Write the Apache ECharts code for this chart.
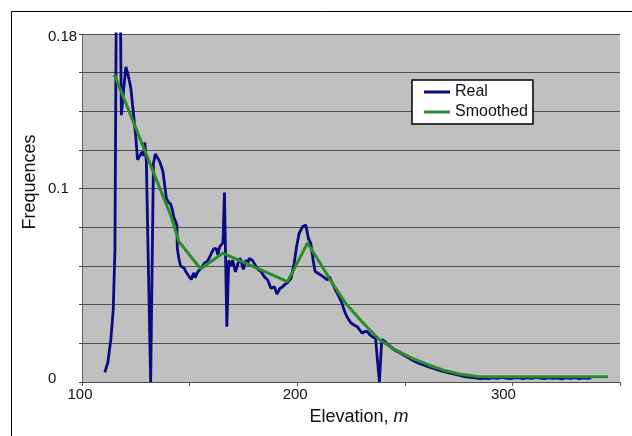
<!DOCTYPE html>
<html>
<head>
<meta charset="utf-8">
<script src="https://cdn.jsdelivr.net/npm/echarts@6/dist/echarts.min.js"></script>
<style>
  html, body { margin: 0; padding: 0; background: #fff; }
  #chart { width: 632px; height: 436px; }
</style>
</head>
<body>
<div id="chart"></div>
<script>
// Elevation frequency distribution: raw histogram and smoothed curve
const realElev = [
  110.6, 112.0, 113.4, 114.5, 115.3, 116.1, 117.6, 118.3, 119.4, 120.4,
  121.4, 122.7, 123.8, 124.9, 125.8, 126.9, 127.9, 128.6, 129.2, 129.9,
  131.9, 133.2, 134.1, 135.0, 136.1, 137.6, 138.4, 139.2, 140.2, 141.2,
  142.0, 142.7, 143.5, 144.1, 144.3, 145.0, 145.8, 146.6, 147.4, 148.3,
  149.2, 150.0, 150.8, 151.4, 152.0, 152.6, 153.1, 153.8, 154.6, 155.5,
  156.9, 158.0, 159.3, 160.3, 161.3, 162.4, 163.1, 164.0, 164.7, 165.5,
  166.2, 167.3, 168.2, 169.2, 170.0, 171.3, 172.4, 173.5, 175.0, 176.2,
  177.0, 177.8, 179.3, 180.9, 182.0, 183.2, 184.7, 186.3, 187.0, 187.8,
  189.4, 190.6, 192.0, 193.0, 194.0, 195.5, 197.1, 198.6, 199.7, 200.9,
  202.5, 204.0, 205.2, 206.3, 207.4, 208.3, 209.3, 210.2, 211.4, 212.5,
  214.0, 215.0, 215.6, 216.3, 217.1, 218.0, 218.8, 220.2, 221.0, 221.8,
  223.0, 224.1, 225.0, 225.6, 226.8, 227.9, 229.0, 230.2, 231.4, 232.6,
  233.7, 234.9, 235.7, 236.4, 237.3, 238.2, 239.3, 240.3, 241.5, 242.8,
  244.0, 245.7, 247.0, 248.5, 250.0, 251.5, 253.4, 255.0, 257.0, 259.0,
  261.1, 263.0, 265.0, 266.8, 268.8, 270.5, 272.5, 274.5, 276.5, 278.5,
  280.5, 282.7, 285, 287, 289, 291, 293, 295, 297, 299,
  301, 303, 305, 307, 309, 311, 313, 315, 317, 319,
  321, 323, 325, 327, 329, 331, 333, 335, 336.6
];
const realFreq = [
  0.005, 0.010, 0.022, 0.037, 0.068, 0.230, 0.220, 0.138, 0.152, 0.163,
  0.159, 0.152, 0.140, 0.128, 0.115, 0.117, 0.119, 0.117, 0.124, 0.114,
  0.000, 0.113, 0.118, 0.117, 0.114, 0.109, 0.102, 0.095, 0.093, 0.092,
  0.089, 0.085, 0.083, 0.081, 0.069, 0.064, 0.060, 0.061, 0.059, 0.057,
  0.0555, 0.055, 0.053, 0.055, 0.0565, 0.054, 0.0547, 0.057, 0.058, 0.059,
  0.0616, 0.062, 0.0645, 0.067, 0.069, 0.069, 0.0657, 0.070, 0.070, 0.072,
  0.098, 0.0286, 0.063, 0.060, 0.063, 0.057, 0.061, 0.064, 0.0583, 0.063,
  0.0615, 0.064, 0.0628, 0.0597, 0.058, 0.0571, 0.0545, 0.0528, 0.0535, 0.0485,
  0.0493, 0.0455, 0.0485, 0.049, 0.0502, 0.0514, 0.0536, 0.0614, 0.070, 0.0769,
  0.0803, 0.0812, 0.0743, 0.0717, 0.0631, 0.0571, 0.0565, 0.0559, 0.055, 0.0541,
  0.0528, 0.0545, 0.0553, 0.051, 0.0493, 0.047, 0.0455, 0.0424, 0.040, 0.0372,
  0.034, 0.032, 0.0305, 0.0295, 0.0292, 0.0286, 0.027, 0.0252, 0.0262, 0.026,
  0.0245, 0.0234, 0.0232, 0.0226, 0.0222, 0.000, 0.022, 0.0214, 0.020, 0.0188,
  0.0176, 0.0163, 0.0155, 0.0146, 0.0136, 0.0127, 0.0114, 0.0105, 0.0095, 0.0087,
  0.0078, 0.0071, 0.0064, 0.0058, 0.0052, 0.0047, 0.0042, 0.0037, 0.0031, 0.0027,
  0.0024, 0.0021, 0.0018, 0.0020, 0.0017, 0.0022, 0.0019, 0.0024, 0.0020, 0.0017,
  0.0021, 0.0023, 0.0018, 0.0022, 0.0019, 0.0024, 0.0020, 0.0017, 0.0022, 0.0019,
  0.0021, 0.0016, 0.0022, 0.0019, 0.0023, 0.0018, 0.0021, 0.0019, 0.0022
];
const smoothElev = [
  115.0, 121.0, 128.0, 135.0, 141.5, 145.0, 155.1, 165.4, 195.5, 204.8,
  216.4, 222.5, 230.2, 238.0, 245.7, 253.0, 261.0, 268.0, 276.0, 284.0,
  290.0, 344.4
];
const smoothFreq = [
  0.159, 0.1425, 0.123, 0.1035, 0.0855, 0.0727, 0.0586, 0.0666, 0.0519, 0.0719,
  0.0511, 0.0407, 0.0310, 0.0221, 0.0166, 0.0125, 0.0088, 0.0061, 0.0040, 0.0028,
  0.0027, 0.0027
];
const xTickLabels = ['100', '200', '300'];
const yTickLabels = ['0', '0.1', '0.18'];

const FONT = 'Liberation Sans, Arial, sans-serif';
const pairs = (xs, ys) => xs.map((x, i) => [x, ys[i]]);

const chart = echarts.init(document.getElementById('chart'), null, { renderer: 'canvas' });

chart.setOption({
  animation: false,
  backgroundColor: '#ffffff',
  grid: {
    left: 82, top: 34, right: 12, bottom: 54,
    show: true, backgroundColor: '#c0c0c0', borderWidth: 0
  },
  xAxis: {
    type: 'value', min: 100, max: 350, interval: 50,
    axisLine: { show: true, lineStyle: { color: '#505050', width: 1 } },
    axisTick: { show: true, length: 4, lineStyle: { color: '#505050' } },
    splitLine: { show: false },
    axisLabel: {
      margin: 5, fontFamily: FONT, fontSize: 15, color: '#111',
      formatter: function (v) {
        const s = String(Math.round(v));
        if (xTickLabels.indexOf(s) < 0) return '';
        return s === '300' ? '{far|' + s + '}' : '{std|' + s + '}';
      },
      rich: {
        std: { fontFamily: FONT, fontSize: 15, color: '#111', padding: [0, 4, 0, 0] },
        far: { fontFamily: FONT, fontSize: 15, color: '#111', padding: [0, 18, 0, 0] }
      }
    }
  },
  yAxis: {
    type: 'value', min: 0, max: 0.18, interval: 0.02,
    axisLine: { show: true, lineStyle: { color: '#606060', width: 1 } },
    axisTick: { show: true, length: 3, lineStyle: { color: '#404040' } },
    splitLine: { show: true, lineStyle: { color: '#505050', width: 1 } },
    axisLabel: {
      margin: 34, align: 'left', fontFamily: FONT, fontSize: 15, color: '#111',
      formatter: function (v) {
        const s = String(Math.round(v * 100) / 100);
        if (yTickLabels.indexOf(s) < 0) return '';
        if (s === '0.18') return '{top|' + s + '}';
        if (s === '0') return '{bot|' + s + '}';
        return '{mid|' + s + '}';
      },
      rich: {
        top: { fontFamily: FONT, fontSize: 15, color: '#111', padding: [6, 0, 0, 0] },
        mid: { fontFamily: FONT, fontSize: 15, color: '#111' },
        bot: { fontFamily: FONT, fontSize: 15, color: '#111', padding: [0, 0, 7, 0] }
      }
    }
  },
  legend: {
    orient: 'vertical', left: 412, top: 80,
    padding: [4, 5, 4, 12], itemGap: 4,
    itemWidth: 26, itemHeight: 3, icon: 'rect',
    backgroundColor: '#ffffff', borderColor: '#000000', borderWidth: 1.5, borderRadius: 0,
    textStyle: { fontFamily: FONT, fontSize: 16, color: '#111' },
    data: ['Real', 'Smoothed']
  },
  series: [
    {
      name: 'Real', type: 'line', data: pairs(realElev, realFreq),
      showSymbol: false, symbol: 'none', clip: true,
      lineStyle: { color: '#0a0a82', width: 2.8 },
      itemStyle: { color: '#0a0a82' }
    },
    {
      name: 'Smoothed', type: 'line', data: pairs(smoothElev, smoothFreq),
      showSymbol: false, symbol: 'none', clip: true,
      lineStyle: { color: '#2a8c2a', width: 3 },
      itemStyle: { color: '#2a8c2a' }
    }
  ],
  graphic: [
    {
      type: 'rect', silent: true, z: -1,
      shape: { x: 11.5, y: 11.5, width: 700, height: 500 },
      style: { fill: 'none', stroke: '#000000', lineWidth: 1 }
    },
    {
      type: 'text', silent: true,
      x: 359, y: 417,
      style: {
        text: '{a|Elevation, }{b|m}',
        align: 'center', verticalAlign: 'middle',
        rich: {
          a: { fontFamily: FONT, fontSize: 18, fill: '#111' },
          b: { fontFamily: FONT, fontSize: 18, fontStyle: 'italic', fill: '#111' }
        }
      }
    },
    {
      type: 'text', silent: true,
      x: 30, y: 182, rotation: Math.PI / 2,
      style: {
        text: 'Frequences',
        fontFamily: FONT, fontSize: 18, fill: '#111',
        align: 'center', verticalAlign: 'middle'
      }
    }
  ]
});
</script>
</body>
</html>
